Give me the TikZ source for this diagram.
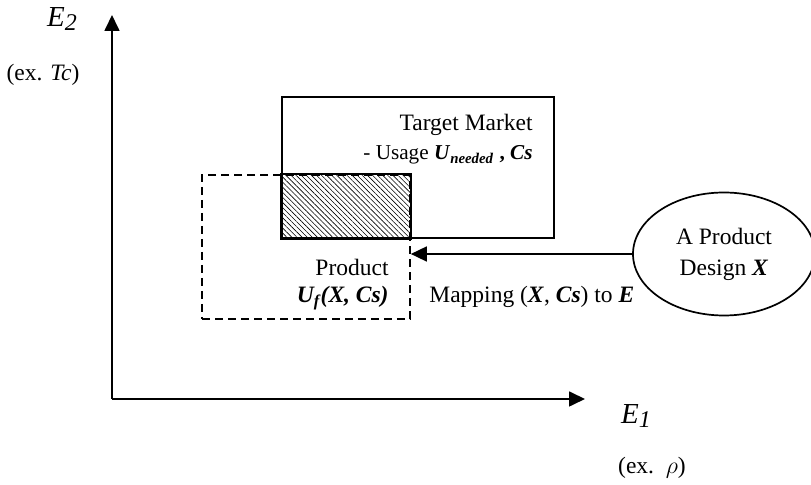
\documentclass[tikz,border=0pt]{standalone}
\usepackage{fontspec}
\setmainfont{Liberation Serif}
\usepackage{tikz}
\usetikzlibrary{shapes.geometric,arrows.meta,patterns.meta,positioning}
\tikzset{>={Triangle[length=8pt,width=7.5pt]}}
\tikzstyle{region} = [draw, line width=0.85pt, inner sep=0pt]
\tikzstyle{design} = [draw, ellipse, line width=0.85pt, inner sep=0pt,
    minimum width=91pt, minimum height=61.5pt, align=center]
\tikzstyle{label} = [inner sep=0pt, font=\fontsize{11.75}{14}\selectfont]
\tikzstyle{small label} = [inner sep=0pt, font=\fontsize{10.6}{12}\selectfont]
\tikzstyle{axisname} = [inner sep=0pt, font=\fontsize{14.5}{17}\selectfont\itshape]
\newcommand{\bi}[1]{\textbf{\textit{#1}}}

\begin{document}
\begin{tikzpicture}[x=0.5pt,y=-0.5pt]
    \clip (0,0) rectangle (811,485);
    \coordinate (origin) at (112,399);
    \coordinate (e2tip) at (112,15);
    \coordinate (e1tip) at (585,399);
    \node [region, minimum width=136pt, minimum height=70.5pt] (target) at (418,167.5) {};
    \node [region, dash pattern=on 4pt off 2.5pt, minimum width=104pt,
        minimum height=72pt] (product) at (306,247) {};
    \fill [pattern={Lines[angle=-45,distance=1.8pt,line width=0.3pt]}]
        (target.south west) rectangle (product.north east);
    \draw [line width=0.85pt] (target.south west) rectangle (product.north east);
    \node [design, label] (design) at (724,254) {A Product\\[1.5pt]Design \bi{X}};
    \draw [->, line width=0.85pt] (design.west) -- (design.west -| product.east);
    \draw [->, line width=0.85pt] (origin) -- (e2tip);
    \draw [->, line width=0.85pt] (origin) -- (e1tip);
    \node [axisname] (e2) at (62,19) {E\raisebox{-0.35ex}{\fontsize{12}{14}\selectfont 2}};
    \node [label] (e2ex) at (43,75) {(ex. \textit{Tc})};
    \node [axisname] (e1) at (636,416) {E\raisebox{-0.35ex}{\fontsize{12}{14}\selectfont 1}};
    \node [label] (e1ex) at (652,468) {(ex.\ \ $\rho$)};
    \node [label, anchor=base east] (tname) at (533,131) {Target Market};
    \node [small label, anchor=base east] (tusage) at (533,160)
        {- Usage \bi{U}\textsubscript{\bi{needed}} \textbf{,} \bi{Cs}};
    \node [label, anchor=base east] (pname) at (389,276) {Product};
    \node [label, anchor=base east] (pfunc) at (389,303)
        {\bi{U}\kern-0.5pt\textsubscript{\bi{f}}\kern-0.5pt\bi{(X, Cs)}};
    \node [label, anchor=base west] (mapping) at (429,303)
        {Mapping (\bi{X}, \bi{Cs}) to \bi{E}};
\end{tikzpicture}
\end{document}
